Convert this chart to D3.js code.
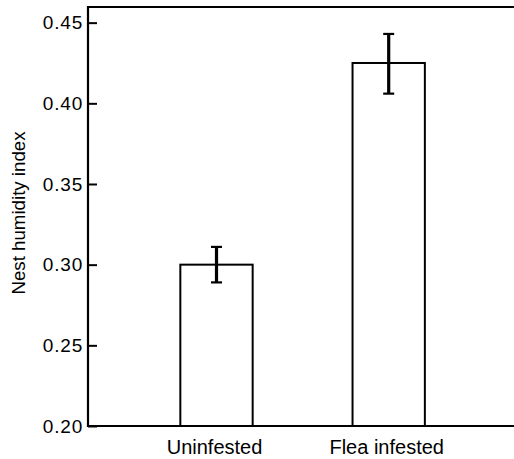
<!DOCTYPE html>
<html>
<head>
    <meta charset='utf-8'>
    <title>Nest humidity</title>
    <style>
    body { margin: 0; background: #fff; }
    text { font-family: 'Liberation Sans', Arial, sans-serif; fill: #000; }
    </style>
    <script src='https://d3js.org/d3.v7.min.js'></script>
</head>
<body>
<div id="container"></div>
<script>
// ******* Data *******
const categories = ["Uninfested", "Flea infested"];
const means = [0.300, 0.425];
const errLow = [0.289, 0.406];
const errHigh = [0.311, 0.443];
const yTicks = [0.20, 0.25, 0.30, 0.35, 0.40, 0.45];

// ******* Constants *******
const width = 514,
      height = 459,
      plotLeft = 88,
      plotTop = 7,
      plotBottom = 426;

var svg = d3.select("#container").append("svg")
    .attr("width", width)
    .attr("height", height)
    .style("display", "block")

// ******* Scales *******
var x = d3.scaleBand()
    .domain(categories)
    .range([130.4, 474.8])
    .paddingInner(0.58)
    .paddingOuter(0.29)
var y = d3.scaleLinear()
    .domain([0.20, 0.4597])
    .range([plotBottom, plotTop])

// ******* Bars *******
svg.selectAll("rect.bar")
    .data(categories)
    .enter()
    .append("rect")
    .attr("class", "bar")
    .attr("x", function(d) {return x(d)})
    .attr("y", function(d, i) {return y(means[i])})
    .attr("width", x.bandwidth())
    .attr("height", function(d, i) {return plotBottom - y(means[i])})
    .attr("fill", "white")
    .attr("stroke", "black")
    .attr("stroke-width", 2)

// ******* Error bars *******
var eb = svg.selectAll("g.err")
    .data(categories)
    .enter()
    .append("g")
    .attr("class", "err")
    .attr("transform", function(d) {return "translate(" + (x(d) + x.bandwidth() / 2) + ",0)"})
eb.append("line")
    .attr("y1", function(d, i) {return y(errLow[i])})
    .attr("y2", function(d, i) {return y(errHigh[i])})
    .attr("stroke", "black")
    .attr("stroke-width", 3.2)
eb.append("line")   // top cap
    .attr("x1", -5.5).attr("x2", 5.5)
    .attr("y1", function(d, i) {return y(errHigh[i])})
    .attr("y2", function(d, i) {return y(errHigh[i])})
    .attr("stroke", "black")
    .attr("stroke-width", 2.2)
eb.append("line")   // bottom cap
    .attr("x1", -5.5).attr("x2", 5.5)
    .attr("y1", function(d, i) {return y(errLow[i])})
    .attr("y2", function(d, i) {return y(errLow[i])})
    .attr("stroke", "black")
    .attr("stroke-width", 2.2)

// ******* Frame lines (left, bottom, top) *******
svg.append("path")
    .attr("d", "M" + width + "," + plotTop + "H" + plotLeft + "V" + plotBottom + "H" + width)
    .attr("fill", "none")
    .attr("stroke", "black")
    .attr("stroke-width", 2.2)

// ******* Y axis: inward ticks *******
var yAxis = svg.append("g")
    .attr("transform", "translate(" + plotLeft + ",0)")
    .call(d3.axisRight(y).tickValues(yTicks).tickFormat(d3.format(".2f")).tickSize(9).tickSizeOuter(0))
yAxis.select(".domain").remove()
yAxis.selectAll(".tick line").attr("stroke-width", 2)
yAxis.selectAll(".tick text")
    .attr("x", -5)
    .attr("text-anchor", "end")
    .attr("font-size", 19)
    .attr("letter-spacing", 0.8)
    .attr("font-family", "'Liberation Sans', Arial, sans-serif")

// ******* X labels *******
svg.selectAll("text.xlab")
    .data(categories)
    .enter()
    .append("text")
    .attr("class", "xlab")
    .text(function(d) {return d})
    .attr("x", function(d) {return x(d) + x.bandwidth() / 2 - 2})
    .attr("y", 454)
    .attr("text-anchor", "middle")
    .attr("font-size", 20)

// ******* Y label *******
svg.append("text")
    .text("Nest humidity index")
    .attr("transform", "translate(25,213) rotate(-90)")
    .attr("text-anchor", "middle")
    .attr("font-size", 18.7)
</script>
</body>
</html>
